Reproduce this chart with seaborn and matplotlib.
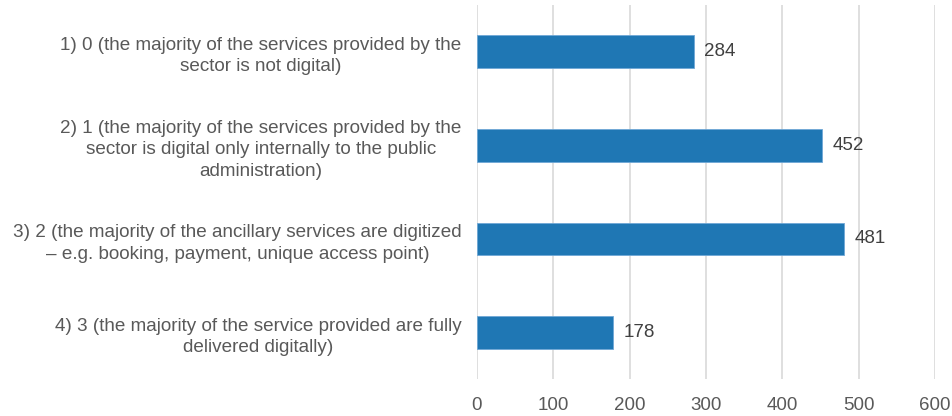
import matplotlib
matplotlib.use("Agg")
import matplotlib.pyplot as plt
import seaborn as sns
import pandas as pd

categories = [
    "1) 0 (the majority of the services provided by the\nsector is not digital)",
    "2) 1 (the majority of the services provided by the\nsector is digital only internally to the public\nadministration)",
    "3) 2 (the majority of the ancillary services are digitized\n– e.g. booking, payment, unique access point)",
    "4) 3 (the majority of the service provided are fully\ndelivered digitally)",
]
values = [284, 452, 481, 178]
x_ticks = [0, 100, 200, 300, 400, 500, 600]

sns.set_theme(style="whitegrid")
plt.rcParams["font.family"] = ["Liberation Sans", "DejaVu Sans"]

df = pd.DataFrame({"category": categories, "value": values})

fig = plt.figure(figsize=(9.52, 4.16), dpi=100)
ax = fig.add_axes([0.501, 0.088, 0.481, 0.9])

sns.barplot(data=df, x="value", y="category", color="#1f77b4", saturation=1,
            width=0.35, edgecolor="#6fa8d6", linewidth=0.6, ax=ax)

for i, v in enumerate(values):
    ax.text(v + 14, i, str(v), va="center", ha="left", fontsize=13.5, color="#404040")

ax.set_xlim(0, 600)
ax.set_ylim(3.5, -0.5)
ax.set_xticks(x_ticks)
ax.set_xlabel("")
ax.set_ylabel("")
ax.grid(axis="x", color="#d9d9d9", linewidth=1.2)
ax.grid(axis="y", visible=False)
for s in ax.spines.values():
    s.set_visible(False)
ax.tick_params(axis="x", length=0, labelsize=13.5, colors="#595959", pad=13)
ax.tick_params(axis="y", length=0, labelsize=13.6, colors="#595959", pad=11)
for lbl in ax.get_yticklabels():
    lbl.set_multialignment("center")
    lbl.set_linespacing(1.36)

fig.savefig("out.png", dpi=100)
